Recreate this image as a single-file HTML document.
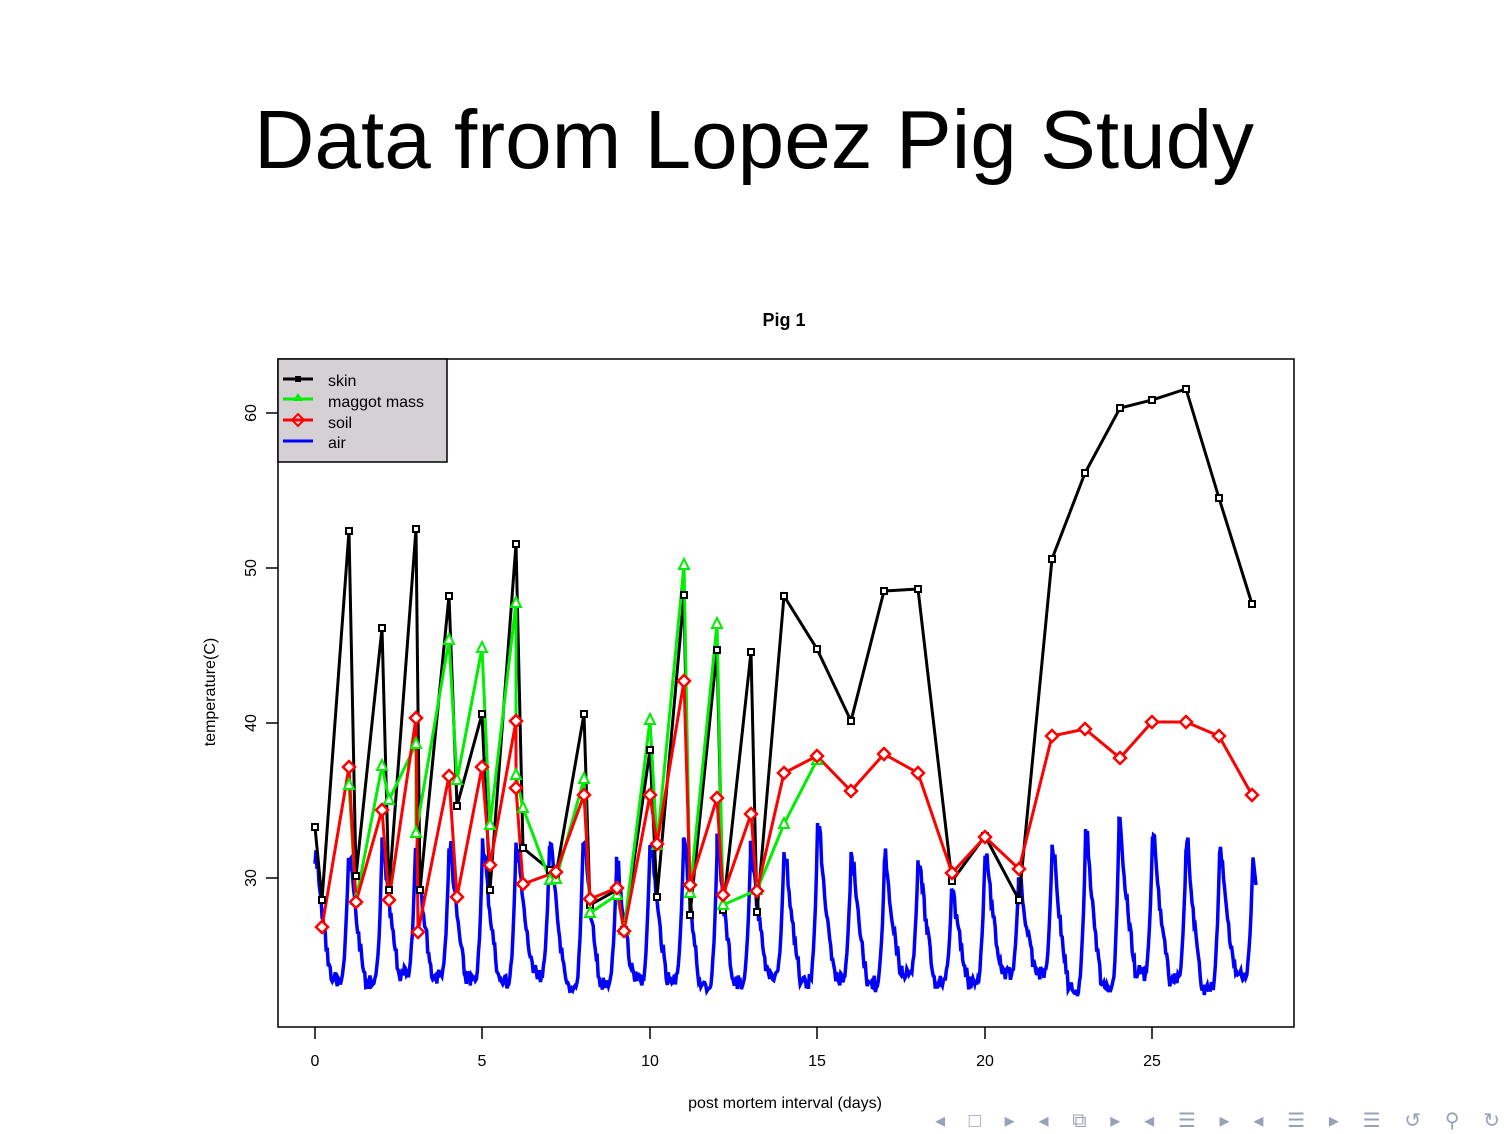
<!DOCTYPE html>
<html><head><meta charset="utf-8"><style>
html,body{margin:0;padding:0;background:#fff;width:1512px;height:1134px;overflow:hidden}
svg{display:block}
</style></head><body>
<svg id="s" width="1512" height="1134" xmlns="http://www.w3.org/2000/svg" font-family="Liberation Sans, sans-serif">
<text x="754" y="168" font-size="83" text-anchor="middle" fill="#000" textLength="1000" lengthAdjust="spacingAndGlyphs">Data from Lopez Pig Study</text>
<text x="784" y="326" font-size="18" font-weight="bold" text-anchor="middle">Pig 1</text>
<g id="air"></g>
<polyline fill="none" stroke="#000" stroke-width="3" points="315,827 322,900 349,531 356,876 382,628 389,890 416,529 420,890 449,596 457,806 482,714 490,890 516,544 523,848 550,870 556,875 584,714 590,905 617,890 624,930 650,750 657,897 684,595 690,915 717,650 723,910 751,652 757,912 784,596 817,649 851,721 884,591 918,589 952,881 985,836 1019,900 1052,559 1085,473 1120,408 1152,400 1186,389 1219,498 1252,604"/>
<polyline fill="none" stroke="#00ee00" stroke-width="3" points="349,785 356,900 382,766 389,800 416,744 416,833 449,640 457,780 482,648 490,825 516,603 516,775 523,808 550,880 556,879 584,779 590,913 617,895 624,930 650,720 657,845 684,565 690,893 717,624 723,905 757,890 784,824 817,760"/>
<polyline fill="none" stroke="#ff0000" stroke-width="3" points="322,927 349,767 356,902 382,810 389,900 416,718 418,932 449,776 457,897 482,767 490,865 516,721 516,788 523,884 556,872 584,795 590,899 617,888 624,931 650,795 657,844 684,681 690,885 717,798 723,895 751,814 757,891 784,773 817,756 851,791 884,754 918,773 952,873 985,837 1019,869 1052,736 1085,729 1120,758 1152,722 1186,722 1219,736 1252,795"/>
<g id="mk"></g>
<rect x="278" y="359" width="1016" height="668" fill="none" stroke="#000" stroke-width="1.5"/>
<g stroke="#000" stroke-width="1.5">
<line x1="266" y1="413" x2="278" y2="413"/><line x1="266" y1="568" x2="278" y2="568"/><line x1="266" y1="723" x2="278" y2="723"/><line x1="266" y1="878" x2="278" y2="878"/>
<line x1="315" y1="1027" x2="315" y2="1039"/><line x1="482" y1="1027" x2="482" y2="1039"/><line x1="650" y1="1027" x2="650" y2="1039"/><line x1="817" y1="1027" x2="817" y2="1039"/><line x1="985" y1="1027" x2="985" y2="1039"/><line x1="1152" y1="1027" x2="1152" y2="1039"/>
</g>
<g font-size="16" text-anchor="middle">
<text transform="translate(256,413) rotate(-90)">60</text>
<text transform="translate(256,568) rotate(-90)">50</text>
<text transform="translate(256,723) rotate(-90)">40</text>
<text transform="translate(256,878) rotate(-90)">30</text>
<text transform="translate(215,692) rotate(-90)">temperature(C)</text>
<text x="315" y="1066">0</text><text x="482" y="1066">5</text><text x="650" y="1066">10</text><text x="817" y="1066">15</text><text x="985" y="1066">20</text><text x="1152" y="1066">25</text>
<text x="785" y="1108">post mortem interval (days)</text>
</g>
<rect x="278" y="359" width="169" height="103" fill="#d4d0d4" stroke="#000" stroke-width="1.5"/>
<g stroke-width="3">
<line x1="283" y1="379" x2="313" y2="379" stroke="#000"/><rect x="295" y="376" width="6" height="6" fill="#000"/>
<line x1="283" y1="399" x2="313" y2="399" stroke="#00ee00"/><polygon points="298,393 303,401 293,401" fill="#00ee00"/>
<line x1="283" y1="420" x2="313" y2="420" stroke="#ff0000"/><polygon points="298,414 304,420 298,426 292,420" fill="none" stroke="#f00" stroke-width="2"/>
<line x1="283" y1="441" x2="313" y2="441" stroke="#0000ff"/>
</g>
<g font-size="16" fill="#000">
<text x="328" y="386">skin</text><text x="328" y="407">maggot mass</text><text x="328" y="428">soil</text><text x="328" y="448">air</text>
</g>
<g fill="#9aa0b8" font-size="20">
<text x="935" y="1127" textLength="565" lengthAdjust="spacing">◂ □ ▸  ◂ ⧉ ▸  ◂ ☰ ▸  ◂ ☰ ▸    ☰    ↺ ⚲ ↻</text>
</g>
</svg>
<script>
(function(){
var NS="http://www.w3.org/2000/svg";
var peaks=[860,855,850,845,850,850,848,848,845,870,845,850,850,855,855,830,860,862,860,895,855,880,850,840,830,840,850,858,857];
var pts=[];var seed=7;function r(){seed=(seed*9301+49297)%233280;return seed/233280;}
var troughs=[];for(var k=0;k<29;k++)troughs.push(972+r()*18);
for(var d=0;d<28;d++){
 for(var i=0;i<=33;i++){
  var t=i/33, y;
  var p=peaks[d], tr=troughs[d], np=peaks[d+1];
  if(t<0.08){y=p+(r()-0.5)*20;}
  else if(t<0.5){var q=(t-0.08)/0.42; y=p+(tr-p)*Math.pow(q,0.7);}
  else if(t<0.78){y=tr+(r()-0.5)*12;}
  else {var q2=(t-0.78)/0.22; y=tr+(np-tr)*q2*q2;}
  y+=(r()-0.5)*(t<0.5?16:8);
  pts.push((315+d*33.5+t*33.5).toFixed(1)+","+y.toFixed(1));
 }
}
pts.push("1256,885");
var pl=document.createElementNS(NS,"polyline");
pl.setAttribute("points",pts.join(" "));pl.setAttribute("fill","none");pl.setAttribute("stroke","#0000ff");pl.setAttribute("stroke-width","3.5");
document.getElementById("air").appendChild(pl);
var mk=document.getElementById("mk");
function add(tag,attrs){var e=document.createElementNS(NS,tag);for(var k in attrs)e.setAttribute(k,attrs[k]);mk.appendChild(e);}
document.querySelectorAll("polyline[stroke='#000']")[0].getAttribute("points").split(" ").forEach(function(s){var a=s.split(",");add("rect",{x:a[0]-3,y:a[1]-3,width:6,height:6,fill:"#fff",stroke:"#000","stroke-width":2});});
document.querySelectorAll("polyline[stroke='#00ee00']")[0].getAttribute("points").split(" ").forEach(function(s){var a=s.split(",").map(Number);add("polygon",{points:(a[0])+","+(a[1]-6)+" "+(a[0]+5)+","+(a[1]+4)+" "+(a[0]-5)+","+(a[1]+4),fill:"#fff",stroke:"#00ee00","stroke-width":2});});
document.querySelectorAll("polyline[stroke='#ff0000']")[0].getAttribute("points").split(" ").forEach(function(s){var a=s.split(",").map(Number);add("polygon",{points:a[0]+","+(a[1]-6)+" "+(a[0]+6)+","+a[1]+" "+a[0]+","+(a[1]+6)+" "+(a[0]-6)+","+a[1],fill:"#fff",stroke:"#f00","stroke-width":2.5});});
})();
</script>
</body></html>
